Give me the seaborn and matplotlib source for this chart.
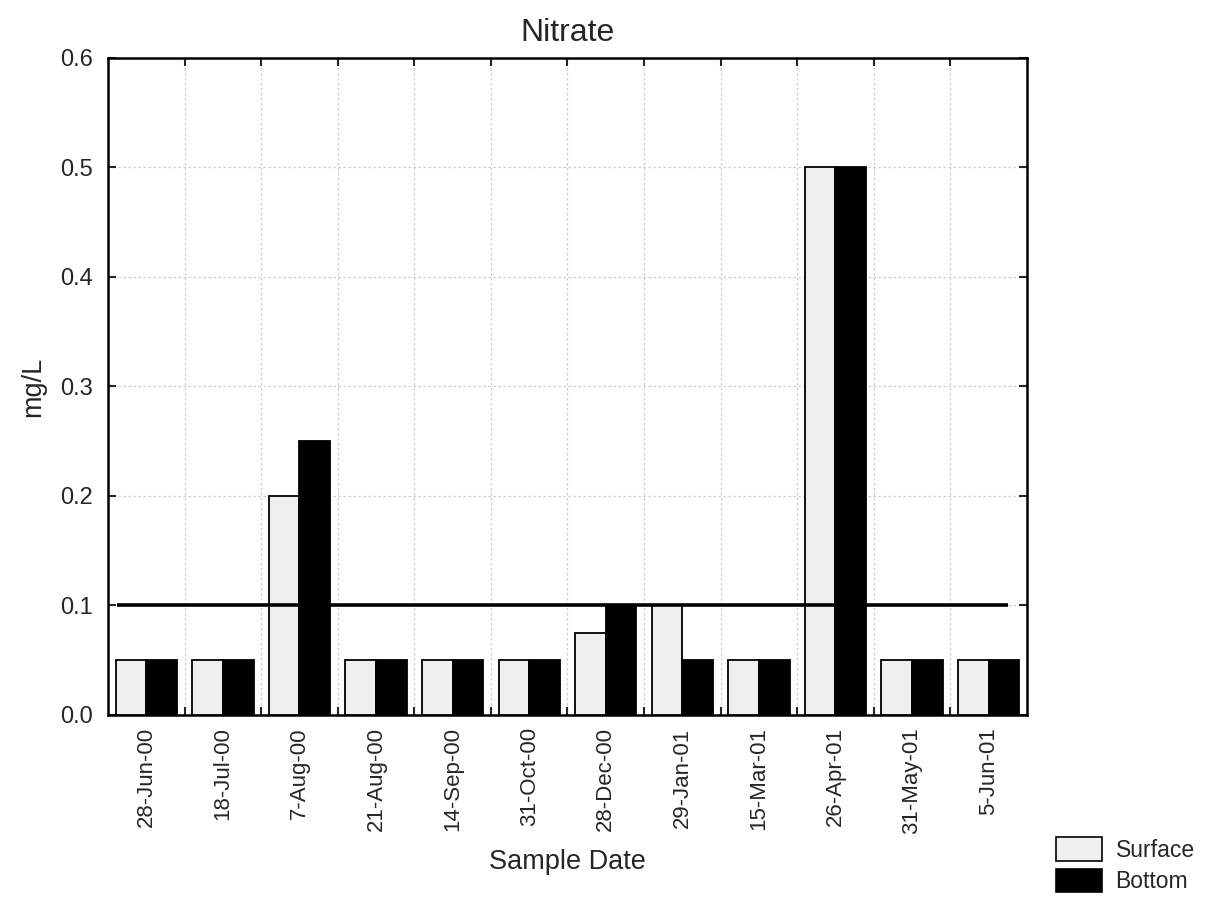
import numpy as np
import pandas as pd
import matplotlib
matplotlib.use("Agg")
import matplotlib.pyplot as plt
import seaborn as sns

dates = ["28-Jun-00", "18-Jul-00", "7-Aug-00", "21-Aug-00", "14-Sep-00", "31-Oct-00",
         "28-Dec-00", "29-Jan-01", "15-Mar-01", "26-Apr-01", "31-May-01", "5-Jun-01"]
surface = [0.05, 0.05, 0.20, 0.05, 0.05, 0.05, 0.075, 0.10, 0.05, 0.50, 0.05, 0.05]
bottom = [0.05, 0.05, 0.25, 0.05, 0.05, 0.05, 0.10, 0.05, 0.05, 0.50, 0.05, 0.05]
guideline = 0.1
yticks = [0.0, 0.1, 0.2, 0.3, 0.4, 0.5, 0.6]

df = pd.DataFrame({
    "date": dates * 2,
    "value": surface + bottom,
    "layer": ["Surface"] * len(dates) + ["Bottom"] * len(dates),
})

sns.set_style("white")
plt.rcParams["font.family"] = ["Liberation Sans", "DejaVu Sans"]

fig = plt.figure(figsize=(12.06, 9.06), dpi=100)
ax = fig.add_axes([0.0896, 0.211, 0.7619, 0.725])

surface_fill = "#efefef"
sns.barplot(data=df, x="date", y="value", hue="layer", order=dates,
            hue_order=["Surface", "Bottom"], palette={"Surface": surface_fill, "Bottom": "black"},
            width=0.8, edgecolor="black", linewidth=1.3, errorbar=None, ax=ax, legend=False,
            zorder=3)

ax.hlines(guideline, -0.38, 11.25, color="black", linewidth=2.6, zorder=4)

ax.set_xlim(-0.5, len(dates) - 0.5)
ax.set_ylim(0, 0.6)
ax.set_yticks(yticks)
ax.set_yticklabels([f"{v:.1f}" for v in yticks], fontsize=17)
ax.set_xticks(range(len(dates)))
ax.set_xticklabels(dates, rotation=90, fontsize=16)
ax.set_xticks(np.arange(0.5, len(dates) - 0.5, 1.0), minor=True)

ax.tick_params(axis="x", which="major", length=0, pad=9)
ax.tick_params(axis="x", which="minor", direction="in", length=6, width=1.5,
               top=True, bottom=True)
ax.tick_params(axis="y", direction="in", length=6, width=1.5, left=True, right=True, pad=11)

ax.grid(False)
ax.grid(True, axis="y", which="major", linestyle=(0, (2, 2)), color="#cccccc", linewidth=0.9, zorder=0)
ax.grid(True, axis="x", which="minor", linestyle=(0, (2, 2)), color="#cccccc", linewidth=0.9, zorder=0)
ax.set_axisbelow(True)

for s in ax.spines.values():
    s.set_visible(True)
    s.set_color("black")
    s.set_linewidth(1.8)

ax.set_title("Nitrate", fontsize=23, pad=12)
ax.set_xlabel("Sample Date", fontsize=19.5, labelpad=11)
ax.set_ylabel("mg/L", fontsize=19.5, labelpad=10)

handles = [plt.Rectangle((0, 0), 1, 1, facecolor=surface_fill, edgecolor="black", linewidth=1.2),
           plt.Rectangle((0, 0), 1, 1, facecolor="black", edgecolor="black", linewidth=1.2)]
fig.legend(handles, ["Surface", "Bottom"], loc="lower left", bbox_to_anchor=(0.868, 0.004),
           frameon=False, fontsize=16.5, handlelength=2.0, handleheight=1.2,
           handletextpad=0.6, labelspacing=0.3, borderaxespad=0)

fig.savefig("out.png", dpi=100, facecolor="white")
